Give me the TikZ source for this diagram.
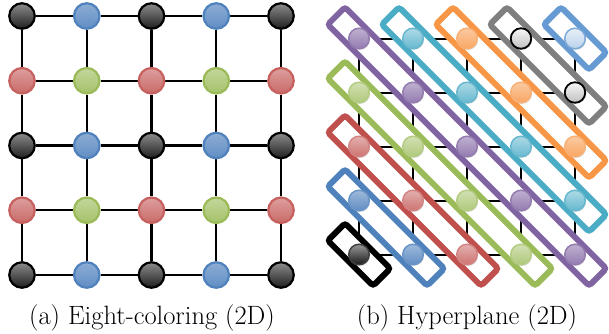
\documentclass[tikz,border=0pt]{standalone}
\usetikzlibrary{shadows,calc}
\pgfdeclarelayer{gridlayer}
\pgfdeclarelayer{bandlayer}
\pgfsetlayers{gridlayer,bandlayer,main}

% band colours (one per anti-diagonal of the right lattice)
\definecolor{cPurple}{HTML}{8064A2}
\definecolor{cCyan}{HTML}{4BACC6}
\definecolor{cOrange}{HTML}{F79646}
\definecolor{cGray}{HTML}{7F7F7F}
\definecolor{cSky}{HTML}{659BD2}
\definecolor{cGreen}{HTML}{9BBB59}
\definecolor{cRed}{HTML}{C0504D}
\definecolor{cBlue}{HTML}{4F81BD}

\tikzset{
  dotA/.style={circle, minimum size=25.5pt, inner sep=0pt, line width=2.2pt},
  dotB/.style={circle, minimum size=20.5pt, inner sep=0pt, line width=1.5pt,
    drop shadow={opacity=0.3, shadow xshift=0.8pt, shadow yshift=-1.2pt}},
  gridA/.style={line width=2.4pt, black},
  gridB/.style={line width=2pt, black},
  band/.style={rectangle, rotate=-45, rounded corners=3pt, fill=white,
    line width=6pt, minimum height=24.4pt, inner sep=0pt},
  caption/.style={anchor=base, inner sep=0pt, font=\fontsize{26.5}{30}\selectfont},
  % left lattice
  aBlack/.style={draw=black, top color=black!45, bottom color=black!88},
  aBlue/.style={draw=cBlue, top color=cBlue!65!white, bottom color=cBlue!90!white},
  aRed/.style={draw=cRed!90!white, top color=cRed!55!white, bottom color=cRed!85!white},
  aGreen/.style={draw=cGreen, top color=cGreen!60!white, bottom color=cGreen!90!white},
  % right lattice, indexed by column minus row plus four
  bk0/.style={draw=black!75, top color=black!40, bottom color=black!90},
  bk1/.style={draw=cBlue!85!white, top color=cBlue!55!white, bottom color=cBlue!90!white},
  bk2/.style={draw=cRed!70!white, top color=cRed!45!white, bottom color=cRed!80!white},
  bk3/.style={draw=cGreen!75!white, top color=cGreen!45!white, bottom color=cGreen!80!white},
  bk4/.style={draw=cPurple!85!white, top color=cPurple!50!white, bottom color=cPurple!85!white},
  bk5/.style={draw=cCyan!85!white, top color=cCyan!45!white, bottom color=cCyan!85!white},
  bk6/.style={draw=cOrange!75!white, top color=cOrange!50!white, bottom color=cOrange!85!white},
  bk7/.style={draw=black, line width=1.8pt, top color=black!3, bottom color=black!25},
  bk8/.style={draw=cSky!85!white, top color=cSky!15!white, bottom color=cSky!45!white},
}

\begin{document}
\begin{tikzpicture}[x=1pt, y=-1pt]
\useasboundingbox (0,0) rectangle (609,333);

% ---------- left lattice: eight-coloring ----------
\foreach \r in {0,...,4}{
  \foreach \c in {0,...,4}{
    \pgfmathtruncatemacro\k{2*mod(\r,2)+mod(\c,2)}
    \ifcase\k \def\sty{aBlack}\or \def\sty{aBlue}\or \def\sty{aRed}\or \def\sty{aGreen}\fi
    \node[dotA,\sty] (a-\r-\c) at ({22+64.75*\c},{16+64.75*\r}) {};
  }
}
\begin{pgfonlayer}{gridlayer}
\foreach \r in {0,...,4}{
  \foreach \c [evaluate=\c as \n using int(\c+1)] in {0,...,3}{
    \draw[gridA] (a-\r-\c) -- (a-\r-\n);
    \draw[gridA] (a-\c-\r) -- (a-\n-\r);
  }
}
\end{pgfonlayer}

% ---------- right lattice: hyperplanes ----------
\foreach \r in {0,...,4}{
  \foreach \c in {0,...,4}{
    \pgfmathtruncatemacro\k{\c-\r+4}
    \node[dotB,bk\k] (b-\r-\c) at ({359+54*\c},{38.5+54*\r}) {};
  }
}
\begin{pgfonlayer}{gridlayer}
\foreach \r in {0,...,4}{
  \foreach \c [evaluate=\c as \n using int(\c+1)] in {0,...,3}{
    \draw[gridB] (b-\r-\c) -- (b-\r-\n);
    \draw[gridB] (b-\c-\r) -- (b-\n-\r);
  }
}
\end{pgfonlayer}

% one band per anti-diagonal, from its first to its last point
\begin{pgfonlayer}{bandlayer}
\foreach \d/\col in {-4/black,-3/cBlue,-2/cRed,-1/cGreen,0/cPurple,1/cCyan,2/cOrange,3/cGray,4/cSky}{
  \pgfmathtruncatemacro\rA{max(0,-\d)}
  \pgfmathtruncatemacro\cA{\rA+\d}
  \pgfmathtruncatemacro\cnt{5-abs(\d)}
  \pgfmathtruncatemacro\rB{\rA+\cnt-1}
  \pgfmathtruncatemacro\cB{\cA+\cnt-1}
  \pgfmathsetmacro\len{(\cnt-1)*76.37+64}
  \pgfmathtruncatemacro\k{\d+4}
  \node[band, draw=\col, minimum width=\len pt] (band-\k)
    at ($(b-\rA-\cA)!0.5!(b-\rB-\cB)$) {};
}
\end{pgfonlayer}

% ---------- captions ----------
\node[caption] (capA) at (152,324.5) {(a) Eight-coloring (2D)};
\node[caption] (capB) at (467,324.5) {(b) Hyperplane (2D)};
\end{tikzpicture}
\end{document}
